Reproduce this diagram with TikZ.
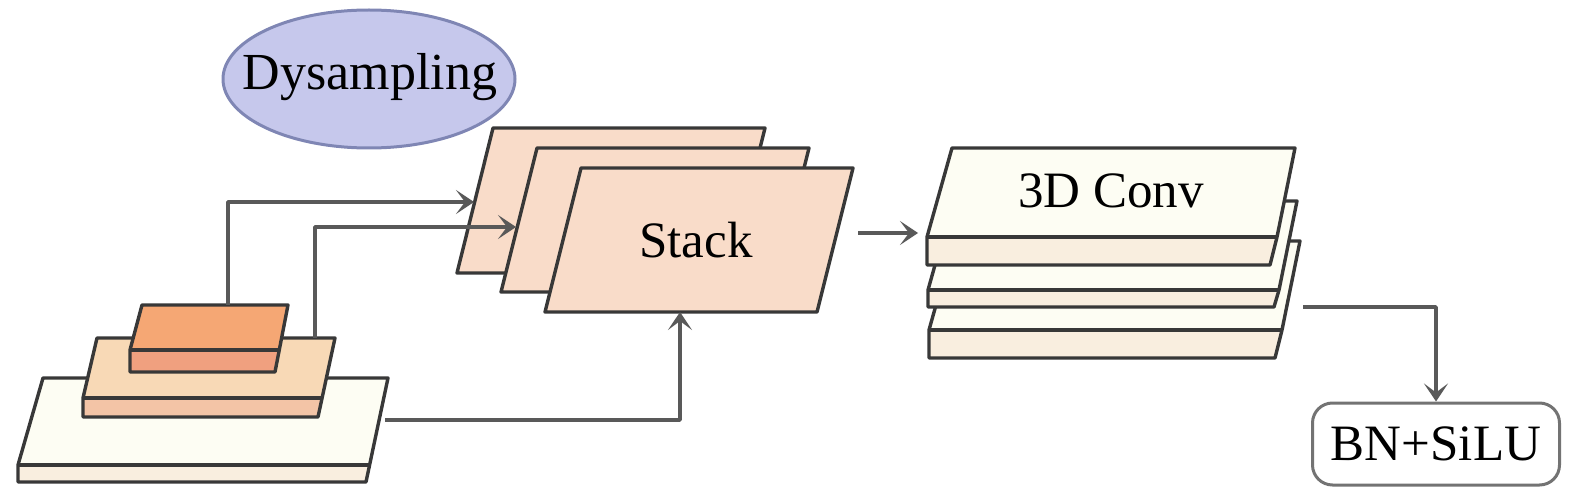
\documentclass[tikz,border=0pt]{standalone}
\usepackage{fontspec}
\setmainfont{Liberation Serif}
\usetikzlibrary{shapes.geometric,arrows.meta}
\definecolor{creamtop}{HTML}{FDFDF3}
\definecolor{creamband}{HTML}{F9EEDF}
\definecolor{midtop}{HTML}{F8D9B6}
\definecolor{midband}{HTML}{F3C4A6}
\definecolor{toptop}{HTML}{F5A774}
\definecolor{topband}{HTML}{F0A07F}
\definecolor{sheet}{HTML}{F9DCC9}
\definecolor{lav}{HTML}{C6C8EC}
\definecolor{lavline}{HTML}{7F86B4}
\begin{document}
\begin{tikzpicture}[x=1pt,y=-1pt,
  slab/.style={draw=black!78, line width=3.4pt, line join=round},
  conn/.style={draw=black!65, line width=3.6pt, line join=round,
    -{Stealth[length=18pt,width=24pt,inset=9pt]}},
  lbl/.style={font=\fontsize{51}{60}\selectfont, inner sep=0pt}]
\useasboundingbox (0,0) rectangle (1575,500);

% ---- left pyramid of feature maps ----
% bottom slab
\fill[creamband] (43,378)--(388,378)--(366,482)--(18,482)--(18,465)--cycle;
\fill[creamtop] (43,378)--(388,378)--(369.6,465)--(18,465)--cycle;
\draw[slab] (43,378)--(388,378)--(366,482)--(18,482)--(18,465)--cycle;
\draw[slab] (18,465)--(369.6,465);
% middle slab
\fill[midband] (97,338)--(335,338)--(318,417)--(83,417)--(83,398)--cycle;
\fill[midtop] (97,338)--(335,338)--(322.1,398)--(83,398)--cycle;
\draw[slab] (97,338)--(335,338)--(318,417)--(83,417)--(83,398)--cycle;
\draw[slab] (83,398)--(322.1,398);
% top slab
\fill[topband] (142,305)--(288,305)--(275,372)--(130,372)--(130,350)--cycle;
\fill[toptop] (142,305)--(288,305)--(279.3,350)--(130,350)--cycle;
\draw[slab] (142,305)--(288,305)--(275,372)--(130,372)--(130,350)--cycle;
\draw[slab] (130,350)--(279.3,350);

\coordinate (topout) at (228,305);
\coordinate (midout) at (315,338);
\coordinate (botout) at (385,420);

% ---- Dysampling ----
\node[ellipse, draw=lavline, fill=lav, line width=3pt, minimum width=292pt,
  minimum height=138pt, inner sep=0pt] (dys) at (369,79) {};
\node[lbl, font=\fontsize{52}{60}\selectfont] (dystext) at (370,77) {Dysampling};

% ---- stacked sheets ----
\draw[slab, fill=sheet] (493,128)--(765,128)--(729,273)--(457,273)--cycle;
\draw[slab, fill=sheet] (537,148)--(809,148)--(773,292)--(501,292)--cycle;
\draw[slab, fill=sheet] (581,168)--(853,168)--(817,312)--(545,312)--cycle;
\node[lbl] (stack) at (696,240) {Stack};
\coordinate (backin) at (474,202);
\coordinate (midin) at (516,227);
\coordinate (frontin) at (680,312);
\coordinate (stackout) at (858,233);

% ---- 3D conv stack ----
\fill[creamband] (954,241)--(1300,241)--(1282,330)--(1275,358)--(929,358)--(929,330)--cycle;
\fill[creamtop] (954,241)--(1300,241)--(1282,330)--(929,330)--cycle;
\draw[slab] (954,241)--(1300,241)--(1282,330)--(1275,358)--(929,358)--(929,330)--cycle;
\draw[slab] (929,330)--(1282,330);

\fill[creamband] (953,201)--(1297,201)--(1279,290)--(1274,307)--(928,307)--(928,290)--cycle;
\fill[creamtop] (953,201)--(1297,201)--(1279,290)--(928,290)--cycle;
\draw[slab] (953,201)--(1297,201)--(1279,290)--(1274,307)--(928,307)--(928,290)--cycle;
\draw[slab] (928,290)--(1279,290);

\fill[creamband] (952,148)--(1295,148)--(1277,237)--(1270,265)--(927,265)--(927,237)--cycle;
\fill[creamtop] (952,148)--(1295,148)--(1277,237)--(927,237)--cycle;
\draw[slab] (952,148)--(1295,148)--(1277,237)--(1270,265)--(927,265)--(927,237)--cycle;
\draw[slab] (927,237)--(1277,237);
\node[lbl] (conv) at (1111,191) {3D Conv};
\coordinate (convin) at (918,233);
\coordinate (convout) at (1303,307);

% ---- BN+SiLU ----
\node[draw=black!55, line width=3pt, rounded corners=20pt, fill=white,
  minimum width=247pt, minimum height=82pt, inner sep=0pt,
  font=\fontsize{51}{60}\selectfont] (bn) at (1436,444) {BN+SiLU};

% ---- connectors ----
\draw[conn] (topout) |- (backin);
\draw[conn] (midout) |- (midin);
\draw[conn] (botout) -| (frontin);
\draw[conn] (stackout) -- (convin);
\draw[conn] (convout) -| (bn.north);
\end{tikzpicture}
\end{document}
